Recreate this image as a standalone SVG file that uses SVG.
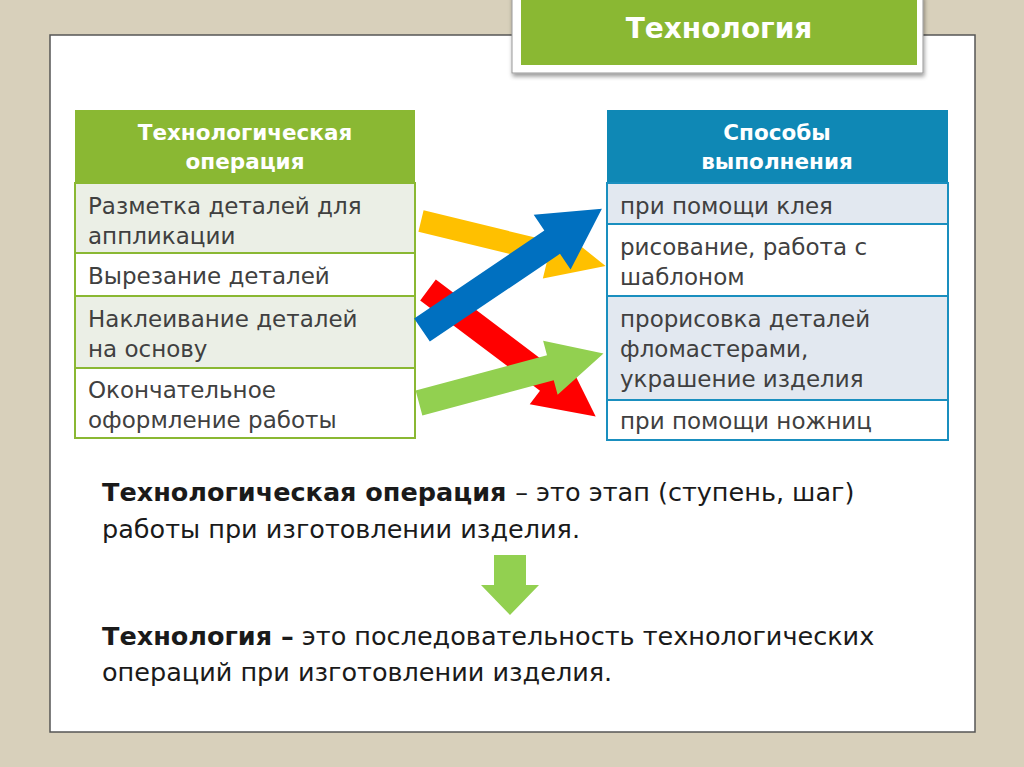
<svg xmlns="http://www.w3.org/2000/svg" width="1024" height="767" viewBox="0 0 1024 767">
<style>
text{font-family:"DejaVu Sans","Liberation Sans",sans-serif;fill:#404040;font-size:23px}
.h{fill:#fff;font-weight:bold;font-size:21.5px;text-anchor:middle}
.b{font-size:25.5px;fill:#1a1a1a}
.lb{stroke:#8ab833;stroke-width:2}
.rb{stroke:#1a8fbf;stroke-width:2}
</style>
<defs><filter id="sh"><feDropShadow dx="1" dy="3" stdDeviation="2" flood-opacity="0.4"/></filter></defs>
<rect width="1024" height="767" fill="#d8d0bb"/>
<rect x="50" y="35" width="925" height="697" fill="#fff" stroke="#555" stroke-width="1.5"/>
<g id="title">
<rect x="512" y="-5" width="411" height="78" fill="#fff" stroke="#999" filter="url(#sh)"/>
<rect x="521" y="0" width="396" height="65" fill="#8ab833"/>
<text x="719" y="38" class="h" style="font-size:28px">Технология</text>
</g>
<g id="left-table">
<rect x="75" y="110" width="340" height="73" fill="#8ab833"/>
<text class="h" x="245" y="140">Технологическая</text>
<text class="h" x="245" y="169">операция</text>
<rect class="lb" x="75" y="183" width="340" height="70" fill="#ebefe6"/>
<rect class="lb" x="75" y="253" width="340" height="43" fill="#fff"/>
<rect class="lb" x="75" y="296" width="340" height="72" fill="#ebefe6"/>
<rect class="lb" x="75" y="368" width="340" height="70" fill="#fff"/>
<text x="88" y="214">Разметка деталей для</text>
<text x="88" y="244">аппликации</text>
<text x="88" y="284">Вырезание деталей</text>
<text x="88" y="327">Наклеивание деталей</text>
<text x="88" y="357">на основу</text>
<text x="88" y="398">Окончательное</text>
<text x="88" y="428">оформление работы</text>
</g>
<g id="right-table">
<rect x="607" y="110" width="341" height="73" fill="#0f88b5"/>
<text class="h" x="777" y="140">Способы</text>
<text class="h" x="777" y="169">выполнения</text>
<rect class="rb" x="607" y="183" width="341" height="41" fill="#e2e8f0"/>
<rect class="rb" x="607" y="224" width="341" height="72" fill="#fff"/>
<rect class="rb" x="607" y="296" width="341" height="104" fill="#e2e8f0"/>
<rect class="rb" x="607" y="400" width="341" height="40" fill="#fff"/>
<text x="620" y="214">при помощи клея</text>
<text x="620" y="255">рисование, работа с</text>
<text x="620" y="285">шаблоном</text>
<text x="620" y="327">прорисовка деталей</text>
<text x="620" y="357">фломастерами,</text>
<text x="620" y="387">украшение изделия</text>
<text x="620" y="429">при помощи ножниц</text>
</g>
<g id="connectors">
<polygon fill="#ffc000" transform="translate(421,221) rotate(13.7)" points="0,-11 132,-11 132,-27 190,0 132,27 132,11 0,11"/>
<polygon fill="#ff0000" transform="translate(428,290) rotate(37)" points="0,-13 150,-13 150,-30 210,0 150,30 150,13 0,13"/>
<polygon fill="#0070c0" transform="translate(422,330) rotate(-34)" points="0,-14 157,-14 157,-33 217,0 157,33 157,14 0,14"/>
<polygon fill="#92d050" transform="translate(419,403) rotate(-15)" points="0,-13 136,-13 136,-28 191,0 136,28 136,13 0,13"/>
<polygon fill="#92d050" points="494,555 526,555 526,585 539,585 510,615 481,585 494,585"/>
</g>
<g id="definitions">
<text class="b" x="102" y="501"><tspan font-weight="bold">Технологическая операция </tspan> – это этап (ступень, шаг)</text>
<text class="b" x="102" y="538">работы при изготовлении изделия.</text>
<text class="b" x="102" y="645"><tspan font-weight="bold">Технология –</tspan> это последовательность технологических</text>
<text class="b" x="102" y="681">операций при изготовлении изделия.</text>
</g>
</svg>
